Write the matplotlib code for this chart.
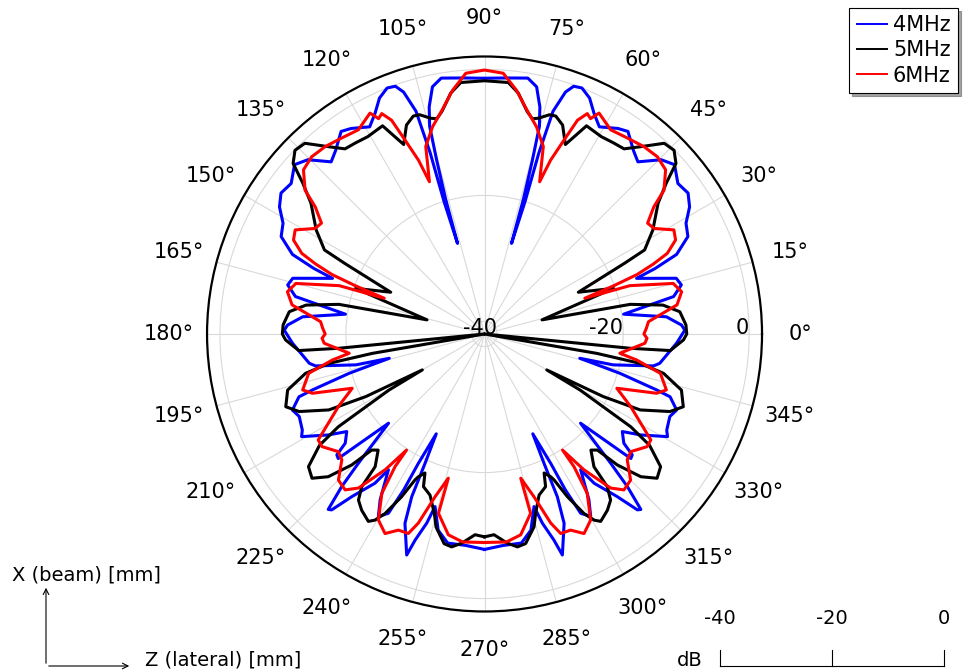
import numpy as np
import matplotlib
matplotlib.use('Agg')
import matplotlib.pyplot as plt
from matplotlib.lines import Line2D

plt.rcParams['font.family'] = 'DejaVu Sans'

# far-field level vs angle, (angle in degrees, level in dB)
f4mhz = [(-90, -7.8), (-85, -8.3), (-80, -8.3), (-76.7, -10.0), (-74.0, -13.5), (-73.0, -10.6),
         (-71.4, -7.5), (-70.6, -4.8), (-67.2, -9.4), (-65.9, -13.7), (-65.3, -19.4), (-64.2, -24.4),
         (-62.9, -18.9), (-62.6, -14.2), (-61.8, -9.7), (-59.8, -8.5), (-57.8, -10.9), (-54.7, -15.6),
         (-53.7, -12.6), (-50.8, -8.7), (-49.0, -5.0), (-48.3, -4.7), (-46.9, -8.8), (-45.7, -13.3),
         (-42.9, -21.2), (-40.4, -11.5), (-39.3, -11.7), (-38.1, -13.9), (-35.3, -15.2), (-32.9, -12.5),
         (-29.3, -8.7), (-27.8, -9.3), (-24.0, -9.8), (-21.6, -9.2), (-18.7, -10.9), (-18.0, -13.3),
         (-16.2, -19.6), (-14.3, -26.4), (-13.5, -21.0), (-10.7, -14.7), (-9.5, -13.8), (-6.6, -12.9),
         (-2.8, -11.5), (1.1, -10.2), (2.6, -10.7), (5.4, -13.0), (8.1, -19.7), (11.2, -11.4),
         (14.0, -9.8), (16.2, -10.3), (20.1, -16.3), (21.0, -13.0), (22.5, -9.0), (25.6, -6.2),
         (28.8, -5.5), (31.8, -3.7), (34.7, -2.7), (37.9, -3.1), (41.7, -1.6), (44.6, -2.6),
         (48.3, -5.4), (50.9, -4.5), (54.7, -2.6), (57.0, -3.1), (61.0, -4.4), (63.6, -2.9),
         (66.0, -1.0), (68.4, 0.0), (70.2, -0.2), (71.5, -1.5), (72.9, -5.0), (73.3, -12.0),
         (73.0, -20.0), (73.4, -27.0), (73.9, -19.8), (74.6, -13.4), (75.2, -7.9), (76.3, -4.9),
         (78.1, -1.9), (80.4, -0.8), (85.0, -1.2), (90, -1.4),
         (95.0, -1.2), (99.6, -0.8), (101.9, -1.9), (103.7, -4.9), (104.8, -7.9), (105.4, -13.4),
         (106.1, -19.8), (106.6, -27.0), (107.0, -20.0), (106.7, -12.0), (107.1, -5.0), (108.5, -1.5),
         (109.8, -0.2), (111.6, 0.0), (114.0, -1.0), (116.4, -2.9), (119.0, -4.4), (123.0, -3.1),
         (125.3, -2.6), (129.1, -4.5), (131.7, -5.4), (135.4, -2.6), (138.3, -1.6), (142.1, -3.1),
         (145.3, -2.7), (148.2, -3.7), (151.2, -5.5), (154.4, -6.2), (157.5, -9.0), (159.0, -13.0),
         (159.9, -16.3), (163.8, -10.3), (166.0, -9.8), (168.8, -11.4), (171.9, -19.7), (174.6, -13.0),
         (177.4, -10.7), (178.9, -10.2), (182.8, -11.5), (186.6, -12.9), (189.5, -13.8), (190.7, -14.7),
         (193.5, -21.0), (194.3, -26.4), (196.2, -19.6), (198.0, -13.3), (198.7, -10.9), (201.6, -9.2),
         (204.0, -9.8), (207.8, -9.3), (209.3, -8.7), (212.9, -12.5), (215.3, -15.2), (218.1, -13.9),
         (219.3, -11.7), (220.4, -11.5), (222.9, -21.2), (225.7, -13.3), (226.9, -8.8), (228.3, -4.7),
         (229.0, -5.0), (230.8, -8.7), (233.7, -12.6), (234.7, -15.6), (237.8, -10.9), (239.8, -8.5),
         (241.8, -9.7), (242.6, -14.2), (242.9, -18.9), (244.2, -24.4), (245.3, -19.4), (245.9, -13.7),
         (247.2, -9.4), (250.6, -4.8), (251.4, -7.5), (253.0, -10.6), (254.0, -13.5), (256.7, -10.0),
         (260, -8.3), (265, -8.3), (270, -7.8)]

f5mhz = [(-90, -9.8), (-87.3, -10.1), (-83.8, -8.6), (-81.2, -7.8), (-78.9, -8.1), (-75.6, -10.4),
         (-74.1, -12.4), (-71.3, -15.0), (-68.2, -15.9), (-66.8, -18.0), (-65.1, -17.0), (-64.5, -16.3),
         (-63.0, -13.0), (-61.0, -9.4), (-59.5, -7.7), (-58.2, -7.0), (-55.1, -7.9), (-52.8, -8.9),
         (-51.2, -10.9), (-50.5, -14.7), (-47.5, -17.0), (-45.8, -16.3), (-44.6, -12.4), (-42.4, -8.4),
         (-39.9, -6.3), (-37.0, -7.0), (-34.0, -10.4), (-32.4, -14.5), (-30.4, -24.4), (-30.0, -30.6),
         (-27.8, -20.7), (-26.0, -14.5), (-22.7, -10.1), (-20.1, -8.4), (-15.9, -9.5), (-12.4, -12.9),
         (-10.7, -16.9), (-9.8, -23.9), (-6.3, -42.0), (-5.6, -18.8), (-5.1, -12.4), (-1.7, -10.4),
         (0.0, -9.9), (2.6, -10.0), (6.5, -10.8), (9.2, -13.3), (11.5, -18.4), (13.8, -32.6),
         (19.5, -20.3), (24.0, -25.7), (26.8, -17.1), (27.7, -13.3), (31.7, -10.6), (37.0, -7.5),
         (39.7, -4.5), (41.7, -1.3), (44.1, -0.1), (46.7, -0.4), (50.2, -3.3), (53.0, -5.2),
         (56.0, -5.4), (59.4, -5.6), (63.9, -5.2), (66.9, -9.3), (69.5, -6.6), (71.9, -5.6),
         (73.5, -5.7), (76.0, -6.7), (77.5, -7.0), (79.2, -6.0), (82.0, -3.4), (84.6, -1.9), (90, -1.8),
         (95.4, -1.9), (98.0, -3.4), (100.8, -6.0), (102.5, -7.0), (104.0, -6.7), (106.5, -5.7),
         (108.1, -5.6), (110.5, -6.6), (113.1, -9.3), (116.1, -5.2), (120.6, -5.6), (124.0, -5.4),
         (127.0, -5.2), (129.8, -3.3), (133.3, -0.4), (135.9, -0.1), (138.3, -1.3), (140.3, -4.5),
         (143.0, -7.5), (148.3, -10.6), (152.3, -13.3), (153.2, -17.1), (156.0, -25.7), (160.5, -20.3),
         (166.2, -32.6), (168.5, -18.4), (170.8, -13.3), (173.5, -10.8), (177.4, -10.0), (180, -9.9),
         (181.7, -10.4), (185.1, -12.4), (185.6, -18.8), (186.3, -42.0), (189.8, -23.9), (190.7, -16.9),
         (192.4, -12.9), (195.9, -9.5), (200.1, -8.4), (202.7, -10.1), (206.0, -14.5), (207.8, -20.7),
         (210.0, -30.6), (210.4, -24.4), (212.4, -14.5), (214.0, -10.4), (217.0, -7.0), (219.9, -6.3),
         (222.4, -8.4), (224.6, -12.4), (225.8, -16.3), (227.5, -17.0), (230.5, -14.7), (231.2, -10.9),
         (232.8, -8.9), (235.1, -7.9), (238.2, -7.0), (239.5, -7.7), (241.0, -9.4), (243.0, -13.0),
         (244.5, -16.3), (245.1, -17.0), (246.8, -18.0), (248.2, -15.9), (251.3, -15.0), (254.4, -12.4),
         (255.9, -10.4), (259.1, -8.1), (261.2, -7.8), (263.8, -8.6), (267.3, -10.1), (270, -9.8)]

f6mhz = [(-90, -8.9), (-84.0, -8.8), (-79.8, -9.6), (-75.6, -12.6), (-75.9, -18.4), (-73.1, -15.0),
         (-70.7, -10.2), (-69.1, -8.1), (-66.3, -8.0), (-63.5, -6.6), (-60.3, -8.0), (-57.2, -11.9),
         (-56.0, -16.6), (-56.1, -19.8), (-53.8, -15.3), (-50.7, -10.4), (-48.2, -8.8), (-45.0, -9.2),
         (-41.4, -11.8), (-38.8, -12.2), (-34.7, -10.6), (-32.5, -10.7), (-29.8, -13.4), (-26.4, -16.1),
         (-22.3, -19.3), (-19.0, -13.1), (-17.1, -11.8), (-12.6, -13.4), (-9.7, -17.5), (-8.1, -20.3),
         (-3.3, -16.5), (-1.5, -16.2), (0.0, -16.7), (2.0, -16.3), (4.3, -15.9), (6.2, -14.0),
         (8.6, -11.1), (12.1, -10.0), (15.0, -11.0), (18.4, -17.7), (19.6, -25.1), (20.5, -20.0),
         (21.3, -16.0), (22.5, -13.0), (23.8, -10.3), (26.2, -8.2), (28.8, -7.7), (31.9, -10.3),
         (34.2, -10.7), (36.9, -8.4), (38.7, -5.5), (42.2, -3.2), (45.7, -2.7), (49.6, -2.95),
         (53.9, -3.5), (58.3, -3.9), (62.6, -2.5), (63.8, -3.9), (65.0, -3.4), (66.5, -5.0),
         (67.7, -8.7), (69.2, -12.5), (70.1, -16.3), (72.6, -10.8), (75.9, -8.1), (79.3, -5.8),
         (82.5, -3.0), (85.9, -0.5), (90, -0.1),
         (94.1, -0.5), (97.5, -3.0), (100.7, -5.8), (104.1, -8.1), (107.4, -10.8), (109.9, -16.3),
         (110.8, -12.5), (112.3, -8.7), (113.5, -5.0), (115.0, -3.4), (116.2, -3.9), (117.4, -2.5),
         (121.7, -3.9), (126.1, -3.5), (130.4, -2.95), (134.3, -2.7), (137.8, -3.2), (141.3, -5.5),
         (143.1, -8.4), (145.8, -10.7), (148.1, -10.3), (151.2, -7.7), (153.8, -8.2), (156.2, -10.3),
         (157.5, -13.0), (158.7, -16.0), (159.5, -20.0), (160.4, -25.1), (161.6, -17.7), (165.0, -11.0),
         (167.9, -10.0), (171.4, -11.1), (173.8, -14.0), (175.7, -15.9), (178.0, -16.3), (180, -16.7),
         (181.5, -16.2), (183.3, -16.5), (188.1, -20.3), (189.7, -17.5), (192.6, -13.4), (197.1, -11.8),
         (199.0, -13.1), (202.3, -19.3), (206.4, -16.1), (209.8, -13.4), (212.5, -10.7), (214.7, -10.6),
         (218.8, -12.2), (221.4, -11.8), (225.0, -9.2), (228.2, -8.8), (230.7, -10.4), (233.8, -15.3),
         (236.1, -19.8), (236.0, -16.6), (237.2, -11.9), (240.3, -8.0), (243.5, -6.6), (246.3, -8.0),
         (249.1, -8.1), (250.7, -10.2), (253.1, -15.0), (255.9, -18.4), (255.6, -12.6), (259.8, -9.6),
         (264.0, -8.8), (270, -8.9)]

series = [('4MHz', f4mhz, '#0000ff'), ('5MHz', f5mhz, '#000000'), ('6MHz', f6mhz, '#ff0000')]
ring_levels = [-40, -20, 0]
scale_ticks = [-40, -20, 0]

fig = plt.figure(figsize=(9.63, 6.71), dpi=100)
ax = fig.add_axes([0.2150, 0.0887, 0.5763, 0.8271], projection='polar')

for name, pts, col in series:
    a = np.array(pts)
    ax.plot(np.deg2rad(a[:, 0]), a[:, 1], color=col, lw=2.2, label=name,
            solid_joinstyle='round')

ax.set_ylim(-42, 2.05)
ax.set_xticks(np.deg2rad(np.arange(0, 360, 15)))
ax.set_xticklabels([])
ax.set_yticks(ring_levels)
ax.set_yticklabels([])
ax.tick_params(length=0)
ax.grid(color='#d9d9d9', linewidth=0.8)
ax.spines['polar'].set_linewidth(1.6)

# angle labels round the outside
for deg in range(0, 360, 15):
    ax.text(np.deg2rad(deg), 8.2, f'{deg}°', ha='center', va='center', fontsize=15)

# level labels along the 0 degree line
for lev in ring_levels:
    ax.text(0, lev, f'{lev}', ha='right', va='baseline', fontsize=15)

leg = fig.legend(loc='upper right', bbox_to_anchor=(958 / 963, 1 - 8 / 671), fontsize=15,
                 frameon=True, fancybox=False, shadow=True, edgecolor='black', framealpha=1,
                 borderpad=0.35, handlelength=1.45, handletextpad=0.3, labelspacing=0.25,
                 borderaxespad=0)
for h in leg.get_lines():
    h.set_linewidth(1.4)
leg.get_frame().set_linewidth(0.8)

# axis triad, bottom left (positions in pixels from the lower left corner)
px = lambda v: v / 100.0
tr = fig.dpi_scale_trans
fig.patches.append(matplotlib.patches.FancyArrowPatch(
    (px(46), px(5)), (px(46), px(86)), transform=tr, arrowstyle='->', mutation_scale=10, lw=0.8))
fig.patches.append(matplotlib.patches.FancyArrowPatch(
    (px(46), px(5)), (px(132), px(5)), transform=tr, arrowstyle='->', mutation_scale=10, lw=0.8))
fig.text(px(12), px(96), 'X (beam) [mm]', transform=tr, ha='left', va='center', fontsize=14)
fig.text(px(145), px(11), 'Z (lateral) [mm]', transform=tr, ha='left', va='center', fontsize=14)

# dB scale, bottom right
x0, x1 = 720, 944
fig.add_artist(Line2D([px(x0), px(x1)], [px(5), px(5)], transform=tr, color='black', lw=0.8))
for v in scale_ticks:
    xv = x0 + (v - scale_ticks[0]) / (scale_ticks[-1] - scale_ticks[0]) * (x1 - x0)
    fig.add_artist(Line2D([px(xv), px(xv)], [px(5), px(21)], transform=tr, color='black', lw=0.8))
    fig.text(px(xv), px(53), f'{v}', transform=tr, ha='center', va='center', fontsize=14)
fig.text(px(690), px(11), 'dB', transform=tr, ha='center', va='center', fontsize=14)

fig.savefig('out.png', dpi=100)
